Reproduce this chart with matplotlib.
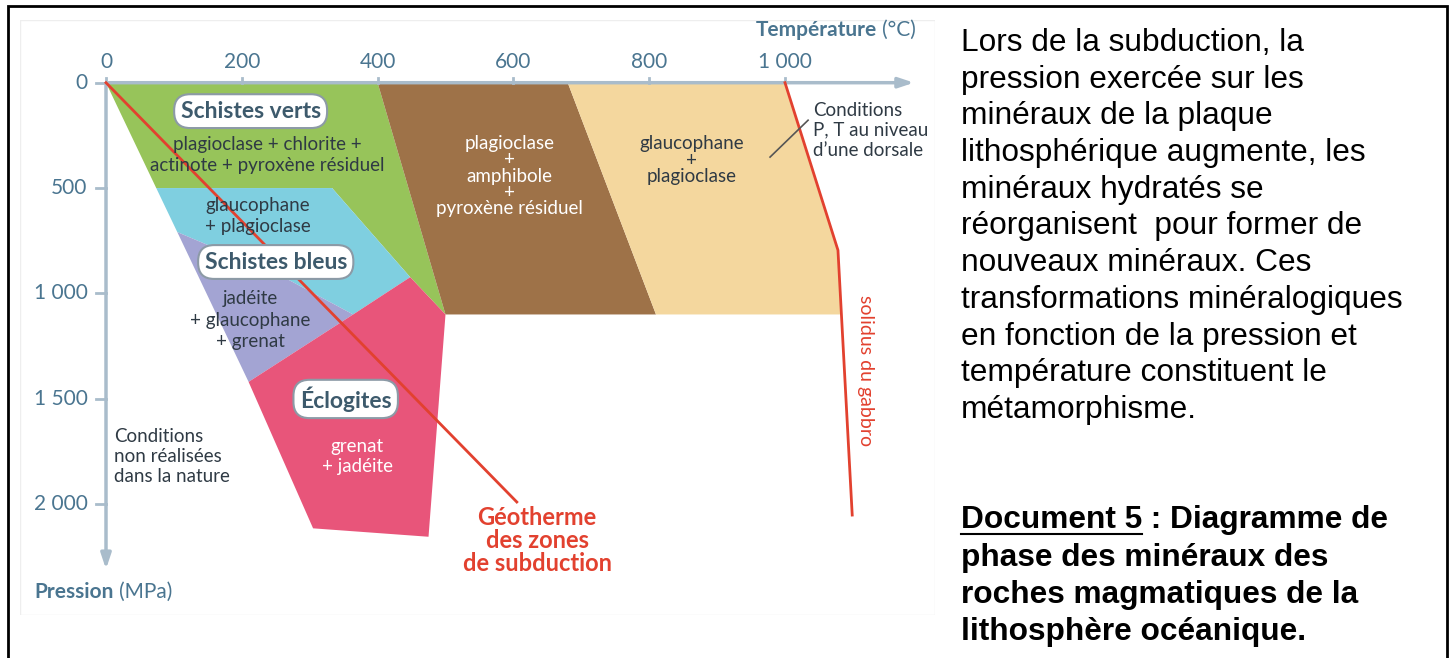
# Diagramme P-T du métamorphisme des roches de la lithosphère océanique

import matplotlib.pyplot as plt
from matplotlib.patches import Polygon, Rectangle

W, H = 1455, 658

# axes ticks
T_ticks = [0, 200, 400, 600, 800, 1000]
T_labels = ["0", "200", "400", "600", "800", "1 000"]
P_ticks = [0, 500, 1000, 1500, 2000]
P_labels = ["0", "500", "1 000", "1 500", "2 000"]

# domaines (T en °C, P en MPa)
verts_T = [0, 400, 500, 448, 333, 74]
verts_P = [0, 0, 1100, 923, 500, 500]
bleu_T = [74, 333, 448, 364, 261, 105]
bleu_P = [500, 500, 923, 1100, 922, 709]
violet_T = [105, 261, 364, 210]
violet_P = [709, 922, 1100, 1420]
eclog_T = [448, 500, 475, 305, 210, 364]
eclog_P = [923, 1100, 2155, 2115, 1420, 1100]
amphib_T = [400, 680, 810, 500]
amphib_P = [0, 0, 1100, 1100]
glauco_T = [680, 1000, 1078, 1083, 810]
glauco_P = [0, 0, 795, 1100, 1100]

solidus_T = [1000, 1078, 1099]
solidus_P = [0, 795, 2052]
geotherme_T = [0, 605]
geotherme_P = [0, 1990]

# pixel <-> data
x0, sx = 106, 0.679
y0, sy = 82.7, 0.2107

plt.rcParams['font.family'] = ['Lato', 'DejaVu Sans']

fig = plt.figure(figsize=(W / 100, H / 100), dpi=100)
ax = fig.add_axes([20 / W, 1 - 615 / H, 915 / W, 595 / H])
ax.set_xlim((20 - x0) / sx, (935 - x0) / sx)
ax.set_ylim((615 - y0) / sy, (20 - y0) / sy)
ax.axis("off")
ax.add_patch(Rectangle((0, 0), 1, 1, transform=ax.transAxes, fc="white",
                       ec="#eeeeee", lw=1, zorder=0))

zones = [
    (verts_T, verts_P, "#97c45a"),
    (bleu_T, bleu_P, "#7fcfe0"),
    (violet_T, violet_P, "#a3a4d3"),
    (eclog_T, eclog_P, "#e8557a"),
    (amphib_T, amphib_P, "#9e7248"),
    (glauco_T, glauco_P, "#f4d79e"),
]
for t, p, c in zones:
    ax.add_patch(Polygon(list(zip(t, p)), closed=True, fc=c, ec="none", zorder=1))

red = "#e2412f"
ax.plot(geotherme_T, geotherme_P, color=red, lw=2, zorder=3)
ax.plot(solidus_T, solidus_P, color=red, lw=2, zorder=3)

# axes fléchés
acol = "#a9bccb"
ax.annotate("", xy=(1194, 0), xytext=(0, 0),
            arrowprops=dict(arrowstyle="-|>,head_length=0.9,head_width=0.3",
                            color=acol, lw=2.5), zorder=2)
ax.annotate("", xy=(0, 2322), xytext=(0, 0),
            arrowprops=dict(arrowstyle="-|>,head_length=0.9,head_width=0.3",
                            color=acol, lw=2.5), zorder=2)
tcol = "#4a7590"
for t, lab in zip(T_ticks, T_labels):
    ax.plot([t, t], [-24, 0], color=acol, lw=2, zorder=2)
    ax.text(t, -98, lab, ha="center", va="center", fontsize=15, color=tcol)
for p, lab in zip(P_ticks, P_labels):
    ax.plot([-15, 0], [p, p], color=acol, lw=2, zorder=2)
    ax.text(-27, p, lab, ha="right", va="center", fontsize=15, color=tcol)

fig.canvas.draw()
rend = fig.canvas.get_renderer()

deg = ax.text(1193, -250, "(°C)", ha="right", va="center", fontsize=15, color=tcol)
bb = deg.get_window_extent(rend)
fig.text((bb.x0 - 5) / W, bb.y0 / H + bb.height / 2 / H, "Température",
         ha="right", va="center", fontsize=15, color=tcol, fontweight="bold")
pr = ax.text(-105, 2417, "Pression", ha="left", va="center", fontsize=15,
             color=tcol, fontweight="bold")
bb = pr.get_window_extent(rend)
fig.text((bb.x1 + 5) / W, bb.y0 / H + bb.height / 2 / H, "(MPa)",
         ha="left", va="center", fontsize=15, color=tcol)

# étiquettes encadrées
box = dict(boxstyle="round,pad=0.28,rounding_size=0.7", fc="white",
           ec="#8c9aa6", lw=1.5)
bcol = "#3d5a6c"
ax.text(213, 135, "Schistes verts", ha="center", va="center", fontsize=16.5,
        fontweight="bold", color=bcol, bbox=box, zorder=5)
ax.text(250, 851, "Schistes bleus", ha="center", va="center", fontsize=16.5,
        fontweight="bold", color=bcol, bbox=box, zorder=5)
ax.text(353, 1501, "Éclogites", ha="center", va="center", fontsize=16.5,
        fontweight="bold", color=bcol, bbox=box, zorder=5)

dark = "#2f3a44"
fs = 13.5
ax.text(237, 343, "plagioclase + chlorite +\nactinote + pyroxène résiduel",
        ha="center", va="center", fontsize=fs, color=dark, linespacing=1.22, zorder=4)
ax.text(224, 632, "glaucophane\n+ plagioclase", ha="center", va="center",
        fontsize=fs, color=dark, linespacing=1.32, zorder=4)
ax.text(212, 1127, "jadéite\n+ glaucophane\n+ grenat", ha="center", va="center",
        fontsize=fs, color=dark, linespacing=1.32, zorder=4)
ax.text(370, 1774, "grenat\n+ jadéite", ha="center", va="center",
        fontsize=fs, color="white", linespacing=1.25, zorder=4)
ax.text(594, 443, "plagioclase\n+\namphibole\n+\npyroxène résiduel", ha="center",
        va="center", fontsize=fs, color="white", linespacing=0.95, zorder=4)
ax.text(862, 367, "glaucophane\n+\nplagioclase", ha="center", va="center",
        fontsize=fs, color=dark, linespacing=0.95, zorder=4)

ax.text(1041, 225, "Conditions\nP, T au niveau\nd\u2019une dorsale", ha="left",
        va="center", fontsize=13.5, color=dark, linespacing=1.22, zorder=4)
ax.plot([978, 1034], [353, 178], color="#555555", lw=1.2, zorder=4)
ax.text(12, 1776, "Conditions\nnon réalisées\ndans la nature", ha="left",
        va="center", fontsize=13.5, color=dark, linespacing=1.22, zorder=4)
ax.text(635, 2175, "Géotherme\ndes zones\nde subduction", ha="center",
        va="center", fontsize=17, color=red, fontweight="bold",
        linespacing=1.0, zorder=4)
ax.text(1118, 1364, "solidus du gabbro", ha="center", va="center",
        fontsize=14, color=red, rotation=-90, zorder=4)

# texte de droite
body = ["Lors de la subduction, la", "pression exercée sur les",
        "minéraux de la plaque", "lithosphérique augmente, les",
        "minéraux hydratés se", "réorganisent  pour former de",
        "nouveaux minéraux. Ces", "transformations minéralogiques",
        "en fonction de la pression et", "température constituent le",
        "métamorphisme."]
rfs = 22.8
for i, line in enumerate(body):
    fig.text(961 / W, 1 - (43 + i * 36.7) / H, line, ha="left", va="center",
             fontsize=rfs, family="Liberation Sans", color="black")

caption = ["phase des minéraux des", "roches magmatiques de la",
           "lithosphère océanique."]
doc = fig.text(961 / W, 1 - 520 / H, "Document 5", ha="left", va="center",
               fontsize=rfs, family="Liberation Sans", fontweight="bold")
bb = doc.get_window_extent(rend)
fig.text(bb.x1 / W, 1 - 520 / H, " : Diagramme de", ha="left", va="center",
         fontsize=rfs, family="Liberation Sans", fontweight="bold")
fig.add_artist(plt.Line2D([bb.x0 / W, bb.x1 / W], [(bb.y0 + 1) / H] * 2,
                          transform=fig.transFigure, color="black", lw=1.5))
for i, line in enumerate(caption):
    fig.text(961 / W, 1 - (558 + i * 37) / H, line, ha="left", va="center",
             fontsize=rfs, family="Liberation Sans", fontweight="bold")

# cadre noir
fig.add_artist(Rectangle((8 / W, -0.01), (1447 - 8) / W, (658 - 6) / H + 0.01,
                         transform=fig.transFigure, fill=False, ec="black", lw=2))

fig.savefig("out.png", dpi=100)
